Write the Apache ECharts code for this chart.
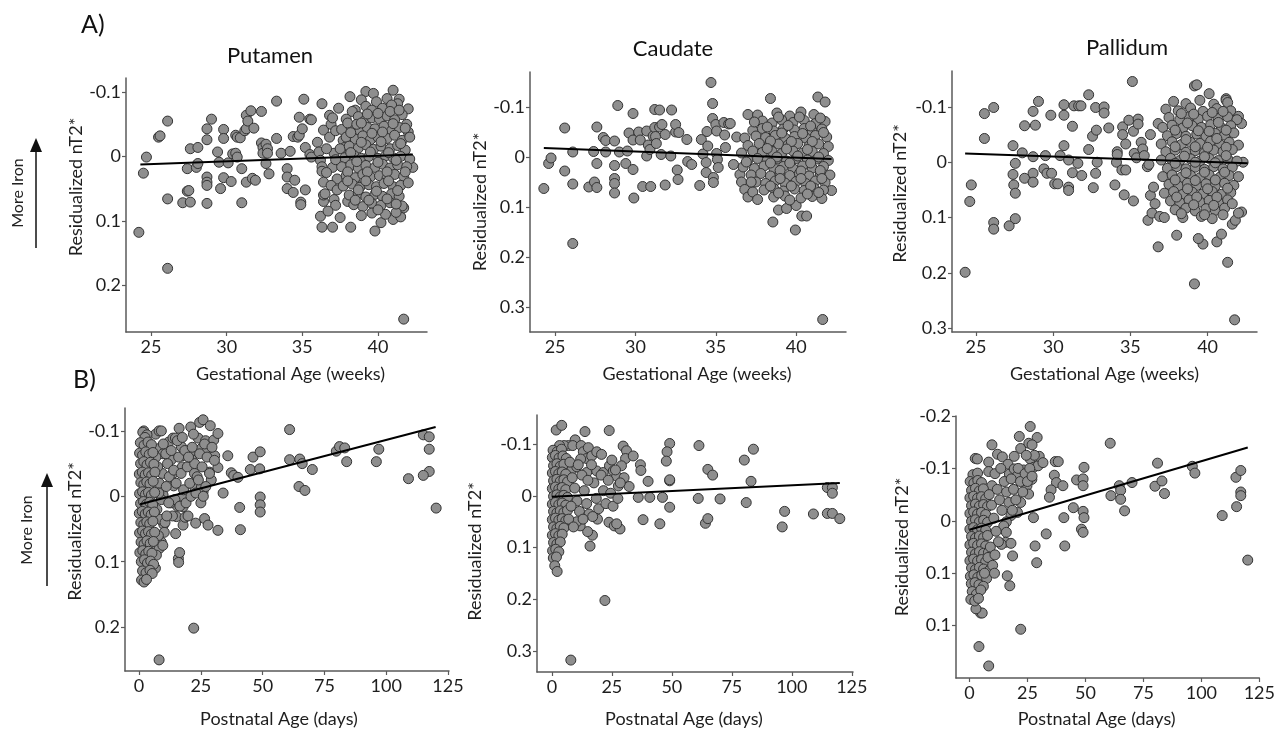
<!DOCTYPE html>
<html><head><meta charset="utf-8">
<script src="https://cdn.jsdelivr.net/npm/echarts@6/dist/echarts.min.js"></script>
<style>html,body{margin:0;padding:0;background:#fff}#c{width:1278px;height:729px}</style>
</head><body><div id="c"></div>
<script>
// ---------- DATA ----------
const panelTitles = ['Putamen', 'Caudate', 'Pallidum'];
const xNameGA = 'Gestational Age (weeks)';
const xNamePNA = 'Postnatal Age (days)';
const yName = 'Residualized nT2*';
const gaTicks = [25, 30, 35, 40];
const pnaTicks = [0, 25, 50, 75, 100, 125];
const yTicksA1 = [-0.1, 0, 0.1, 0.2];
const yTicksA2 = [-0.1, 0, 0.1, 0.2, 0.3];
const yTicksA3 = [-0.1, 0, 0.1, 0.2, 0.3];
const yTicksB1 = [-0.1, 0, 0.1, 0.2];
const yTicksB2 = [-0.1, 0, 0.1, 0.2, 0.3];
const yTicksB3 = [-0.2, -0.1, 0, 0.1, 0.2];
const yLabelsB3 = ['-0.2', '-0.1', '0', '0.1', '0.1'];

const putamenGA = [
[24.2,0.118],[24.5,0.026],[24.7,0.001],[25.5,-0.030],[25.6,-0.032],[26.1,-0.055],[26.1,0.066],[26.1,0.174],
[27.1,0.072],[27.4,0.019],[27.4,0.054],[27.5,0.053],[27.6,0.071],[27.6,-0.012],[28.0,0.017],[28.1,-0.014],[28.1,0.011],
[28.7,-0.043],[28.7,-0.026],[28.7,0.032],[28.7,0.040],[28.7,0.045],[28.7,0.073],[29.0,-0.058],
[29.4,-0.007],[29.5,0.009],[29.6,0.050],[29.8,-0.042],[29.8,-0.028],[29.8,0.033],[30.1,0.010],[30.3,0.039],[30.4,-0.004],
[30.6,-0.033],[30.6,-0.005],[30.7,-0.030],[30.7,0.001],[30.9,-0.029],[31.0,0.019],[31.0,0.072],[31.2,-0.040],[31.3,-0.043],[31.3,-0.064],[31.4,-0.055],[31.3,0.040],[31.6,-0.071],[31.7,0.034],[31.8,-0.044],[31.9,0.037],[32.3,-0.070],[32.3,-0.021],[32.4,-0.014],[32.4,-0.005],[32.6,0.011],[32.6,-0.019],[32.7,-0.012],[32.7,-0.005],[32.8,0.027],[33.3,-0.028],[33.3,-0.086],
[33.6,-0.005],[34.0,0.019],[34.0,0.032],[34.0,0.050],[34.2,-0.008],[34.4,-0.031],[34.4,0.056],[34.5,0.037],[34.7,-0.030],[34.8,-0.061],[34.8,-0.033],[34.9,0.071],[34.9,0.075],[35.0,-0.043],[35.1,-0.089],[35.2,-0.014],[35.2,0.052],[35.5,-0.058],[35.6,-0.057],[35.5,-0.003],[35.6,0.001],
[36.0,-0.022],[36.1,-0.007],[36.2,0.006],[36.3,0.016],[36.3,0.023],[36.3,-0.082],[36.4,-0.041],[36.2,0.093],[36.3,0.110],[36.4,0.070],[36.4,0.060],[36.4,0.040],[36.5,0.058],[36.8,-0.064],[36.9,-0.050],[37.0,0.017],[37.0,0.110],[37.1,0.067],[37.2,0.076],[37.3,0.035],
[37.7,-0.025],[37.8,-0.014],[38.0,0.070],[38.1,-0.014],[38.15,-0.093],[38.2,0.110],[38.5,-0.072],[38.5,0.040],
[39.2,-0.101],[39.7,-0.098],[39.8,0.116],[40.2,0.103],[41.0,-0.103],[41.0,0.098],[41.4,-0.089],[41.5,0.094],[41.7,0.080],[42.0,-0.074],[41.7,0.253],[42.3,0.017],
[36.8,-0.030],[37.1,-0.005],[36.9,0.045],[37.3,0.052],[36.6,-0.012],[37.2,-0.040],
[38.9,-0.088],[39.9,-0.085],[40.6,-0.090],[41.3,-0.082],
[38.3,-0.070],[39.2,-0.078],[39.6,-0.072],[40.3,-0.075],[40.9,-0.080],[41.6,-0.065],
[37.9,-0.058],[38.7,-0.062],[39.1,-0.055],[39.6,-0.060],[40.1,-0.058],[40.6,-0.063],[41.1,-0.057],[41.9,-0.050],
[37.6,-0.042],[38.2,-0.047],[38.8,-0.040],[39.3,-0.045],[39.8,-0.043],[40.4,-0.047],[40.9,-0.040],[41.4,-0.045],[42.0,-0.038],
[37.9,-0.030],[38.5,-0.027],[39.0,-0.032],[39.5,-0.026],[40.0,-0.030],[40.6,-0.028],[41.1,-0.033],[41.6,-0.025],[42.1,-0.030],
[37.5,-0.012],[38.1,-0.016],[38.7,-0.013],[39.2,-0.018],[39.7,-0.011],[40.2,-0.016],[40.8,-0.012],[41.3,-0.017],[41.8,-0.010],
[37.8,0.002],[38.4,-0.002],[38.9,0.003],[39.4,0.000],[40.0,0.003],[40.5,-0.001],[41.0,0.002],[41.5,0.000],[42.1,0.004],
[37.6,0.016],[38.2,0.013],[38.7,0.018],[39.2,0.014],[39.8,0.017],[40.3,0.012],[40.8,0.018],[41.3,0.013],[41.9,0.016],
[37.9,0.030],[38.5,0.033],[39.0,0.028],[39.5,0.032],[40.1,0.030],[40.6,0.034],[41.1,0.028],[41.7,0.031],
[37.7,0.046],[38.3,0.043],[38.8,0.048],[39.4,0.044],[39.9,0.047],[40.4,0.042],[41.0,0.047],[41.5,0.045],[42.0,0.041],
[38.1,0.060],[38.7,0.058],[39.2,0.063],[39.8,0.059],[40.3,0.062],[40.9,0.058],[41.4,0.062],
[38.4,0.075],[39.0,0.078],[39.6,0.073],[40.2,0.076],[40.8,0.072],[41.6,0.077],
[38.9,0.092],[39.6,0.088],[40.5,0.090],[41.2,0.087],
[38.0,-0.052],[38.6,-0.050],[39.3,-0.066],[40.0,-0.067],[40.8,-0.070],[41.4,-0.072],
[38.2,-0.037],[38.9,-0.052],[39.6,-0.036],[40.3,-0.038],[41.0,-0.051],[41.8,-0.044],
[38.2,-0.006],[38.9,-0.022],[39.5,-0.007],[40.2,-0.023],[40.7,-0.006],[41.5,-0.020],
[38.0,0.024],[38.6,0.008],[39.3,0.024],[40.0,0.009],[40.6,0.024],[41.2,0.006],[41.8,0.024],
[38.0,0.038],[38.7,0.052],[39.2,0.038],[39.9,0.054],[40.7,0.038],[41.3,0.053],
[38.5,0.068],[39.4,0.068],[40.0,0.083],[40.6,0.066],[41.2,0.074],
[36.6,0.025],[37.2,0.005],[37.0,-0.060],[37.4,-0.075],[36.7,0.085],[37.5,0.095]
];

const caudateGA = [
[24.3,0.063],[24.6,0.013],[24.75,0.002],[25.6,-0.058],[25.6,0.028],[26.1,-0.010],[26.1,0.054],[26.1,0.173],
[27.1,0.060],[27.4,-0.011],[27.45,0.050],[27.6,-0.060],[27.6,0.013],[27.6,0.061],[28.0,-0.039],[28.15,-0.033],[28.15,-0.010],
[28.7,-0.032],[28.7,0.017],[28.7,0.043],[28.7,0.053],[28.7,0.072],[28.9,-0.103],[29.0,-0.010],[29.4,0.013],[29.5,-0.012],
[29.6,-0.048],[29.85,-0.087],[29.85,-0.034],[29.85,0.025],[29.9,0.082],[30.2,-0.050],[30.3,-0.034],[30.45,0.059],[30.7,-0.052],[30.7,-0.002],[30.8,-0.024],[30.9,-0.015],[30.95,0.059],
[31.1,-0.042],[31.2,-0.095],[31.2,-0.059],[31.25,-0.041],[31.3,-0.027],[31.5,-0.094],[31.5,-0.060],[31.6,-0.005],[31.65,-0.065],
[31.85,0.056],[31.85,-0.045],[32.2,-0.002],[32.25,-0.094],[32.5,-0.050],[32.5,-0.065],[32.6,0.026],[32.65,0.045],[32.7,-0.049],
[33.2,-0.035],[33.25,0.009],[33.5,0.015],[34.0,0.057],[34.1,-0.035],[34.2,-0.006],[34.4,0.011],[34.4,0.031],[34.45,-0.051],[34.5,-0.022],
[34.7,-0.149],[34.8,-0.107],[34.8,-0.077],[34.85,0.041],[34.85,0.051],[35.0,-0.065],[35.05,-0.052],[35.05,-0.007],[35.1,0.005],[35.15,0.021],
[35.5,-0.069],[35.55,-0.044],[35.6,-0.019],[35.8,-0.066],[35.9,-0.067],[36.1,0.015],[36.3,-0.040],[36.5,0.035],[36.6,0.050],[36.8,0.065],[37.0,0.080],[37.3,0.070],[37.6,0.085],
[38.4,-0.117],[38.55,0.130],[39.95,0.146],[40.35,0.118],[40.65,0.118],[41.35,-0.120],[41.8,-0.110],[41.65,0.325],[42.2,0.067],[38.9,0.106],[39.4,0.103],[40.0,0.097],[37.0,-0.085],[37.6,-0.084],
[38.8,-0.088],[39.6,-0.082],[40.3,-0.090],[41.1,-0.085],
[37.9,-0.072],[38.5,-0.068],[39.1,-0.074],[39.8,-0.069],[40.5,-0.073],[41.2,-0.067],[41.8,-0.071],
[37.3,-0.053],[37.9,-0.057],[38.6,-0.052],[39.2,-0.056],[39.9,-0.054],[40.5,-0.057],[41.0,-0.051],[41.6,-0.056],
[36.8,-0.038],[37.5,-0.042],[38.1,-0.039],[38.7,-0.043],[39.3,-0.038],[39.9,-0.041],[40.6,-0.038],[41.2,-0.043],[41.9,-0.040],
[37.0,-0.023],[37.7,-0.027],[38.3,-0.022],[38.9,-0.026],[39.5,-0.024],[40.1,-0.027],[40.8,-0.022],[41.4,-0.026],[42.0,-0.021],
[36.6,-0.008],[37.3,-0.012],[37.9,-0.009],[38.5,-0.011],[39.1,-0.007],[39.8,-0.012],[40.4,-0.008],[41.0,-0.011],[41.7,-0.007],
[37.0,0.006],[37.6,0.003],[38.2,0.007],[38.8,0.004],[39.4,0.008],[40.0,0.003],[40.7,0.006],[41.3,0.004],[42.0,0.007],
[36.7,0.020],[37.4,0.023],[38.0,0.018],[38.6,0.022],[39.2,0.019],[39.8,0.023],[40.4,0.018],[41.0,0.022],[41.7,0.019],
[37.2,0.036],[37.8,0.033],[38.4,0.038],[39.0,0.034],[39.6,0.037],[40.2,0.033],[40.8,0.038],[41.5,0.034],[42.1,0.036],
[37.5,0.050],[38.1,0.053],[38.7,0.048],[39.3,0.052],[40.0,0.049],[40.6,0.053],[41.2,0.048],[41.8,0.051],
[38.0,0.066],[38.6,0.063],[39.2,0.068],[39.9,0.064],[40.5,0.067],[41.1,0.062],[41.7,0.066],
[38.6,0.080],[39.3,0.078],[40.3,0.082],[41.0,0.079],[41.6,0.083],
[38.2,-0.060],[38.9,-0.080],[39.5,-0.063],[40.2,-0.080],[40.9,-0.062],[41.5,-0.078],
[38.4,-0.032],[39.1,-0.048],[39.7,-0.031],[40.4,-0.047],[41.0,-0.031],[41.7,-0.049],
[38.2,-0.017],[38.8,0.000],[39.4,-0.016],[40.1,-0.002],[40.7,-0.015],[41.4,0.000],
[38.4,0.012],[39.0,0.027],[39.6,0.012],[40.3,0.028],[40.9,0.012],[41.5,0.027],
[38.4,0.058],[39.0,0.043],[39.7,0.058],[40.3,0.043],[40.9,0.058],[41.6,0.043],
[38.9,0.072],[39.6,0.086],[40.7,0.074],[41.4,0.071],[37.4,-0.070],[36.9,0.010],[37.2,0.050]
];

const pallidumGA = [
[24.3,0.199],[24.6,0.071],[24.7,0.041],[25.55,-0.088],[25.55,-0.043],[26.15,-0.099],[26.15,0.109],[26.15,0.121],
[27.15,0.115],[27.4,-0.030],[27.4,0.022],[27.45,0.041],[27.55,0.056],[27.55,0.002],[27.55,0.102],[28.0,-0.017],[28.15,-0.066],[28.15,0.029],
[28.7,-0.092],[28.7,-0.010],[28.7,0.020],[28.7,0.036],[28.85,-0.067],[29.05,-0.110],[29.4,0.012],[29.5,-0.012],[29.6,0.020],[29.85,-0.085],[29.9,0.020],[30.1,0.039],[30.3,0.039],
[30.45,-0.012],[30.7,-0.104],[30.7,-0.085],[30.7,-0.030],[31.0,-0.004],[31.0,0.045],[31.0,0.051],[31.25,-0.065],[31.25,0.019],[31.35,-0.102],[31.6,0.002],[31.65,-0.102],[31.8,-0.102],[31.85,0.024],
[32.3,-0.122],[32.3,-0.023],[32.55,-0.047],[32.6,0.046],[32.75,-0.099],[32.75,0.020],[32.8,-0.058],[32.85,0.000],[33.3,-0.100],[33.3,-0.089],[33.6,-0.062],
[34.1,0.000],[34.15,-0.019],[34.15,-0.014],[34.0,0.041],[34.45,0.014],[34.5,-0.064],[34.5,-0.050],[34.6,0.059],[34.7,0.014],[34.7,-0.033],[35.13,-0.146],[35.2,0.070],[34.9,-0.076],
[35.2,-0.056],[35.25,-0.016],[35.4,-0.008],[35.5,-0.078],[35.5,-0.069],[35.7,-0.036],[35.8,-0.024],[35.9,-0.012],[36.1,0.008],[36.2,0.004],[36.14,0.105],[36.3,0.060],[36.5,0.045],[36.6,0.075],[36.3,-0.050],[36.8,-0.070],[36.4,0.092],[36.9,0.098],[37.2,0.100],
[39.15,-0.138],[39.3,-0.140],[40.1,-0.124],[41.2,-0.115],[41.2,-0.112],[39.15,0.220],[41.3,0.181],[41.75,0.285],[42.0,-0.083],[42.2,-0.070],[42.2,0.090],[42.3,0.000],[36.8,0.153],[38.0,0.132],[39.7,0.148],[40.6,0.144],[40.9,0.130],[39.4,0.138],[41.6,0.112],[41.8,0.105],[42.0,0.092],
[37.8,-0.110],[38.6,-0.106],[39.5,-0.112],[40.4,-0.105],[41.3,-0.108],
[37.3,-0.096],[38.1,-0.093],[38.9,-0.098],[39.7,-0.092],[40.6,-0.097],[41.5,-0.093],
[37.5,-0.081],[38.2,-0.077],[38.8,-0.082],[39.4,-0.078],[40.0,-0.083],[40.7,-0.079],[41.3,-0.082],[41.9,-0.077],
[37.1,-0.063],[37.7,-0.067],[38.4,-0.062],[39.0,-0.066],[39.6,-0.063],[40.2,-0.068],[40.9,-0.062],[41.5,-0.066],
[37.4,-0.048],[38.0,-0.052],[38.6,-0.047],[39.3,-0.051],[39.9,-0.047],[40.5,-0.052],[41.1,-0.049],[41.7,-0.053],
[37.0,-0.033],[37.7,-0.037],[38.3,-0.032],[38.9,-0.036],[39.5,-0.034],[40.2,-0.038],[40.8,-0.032],[41.4,-0.036],[42.0,-0.031],
[37.3,-0.019],[37.9,-0.022],[38.6,-0.018],[39.2,-0.021],[39.8,-0.017],[40.4,-0.022],[41.0,-0.019],[41.6,-0.023],
[37.0,-0.004],[37.6,-0.007],[38.2,-0.003],[38.9,-0.006],[39.5,-0.002],[40.1,-0.007],[40.7,-0.003],[41.3,-0.006],[41.9,-0.002],
[37.4,0.011],[38.0,0.008],[38.6,0.012],[39.2,0.009],[39.8,0.013],[40.4,0.008],[41.0,0.012],[41.6,0.009],
[37.1,0.026],[37.7,0.023],[38.3,0.027],[38.9,0.024],[39.5,0.028],[40.1,0.023],[40.8,0.027],[41.4,0.024],[42.0,0.026],
[37.5,0.040],[38.1,0.043],[38.7,0.038],[39.3,0.042],[39.9,0.039],[40.5,0.043],[41.1,0.038],[41.7,0.042],
[37.2,0.056],[37.8,0.053],[38.4,0.058],[39.0,0.054],[39.7,0.057],[40.3,0.053],[40.9,0.058],[41.5,0.055],
[37.6,0.070],[38.2,0.073],[38.8,0.068],[39.5,0.072],[40.1,0.069],[40.7,0.073],[41.3,0.068],
[37.9,0.086],[38.6,0.083],[39.2,0.088],[39.9,0.084],[40.5,0.087],[41.1,0.083],
[38.4,0.100],[39.6,0.098],[40.3,0.102],
[38.3,-0.088],[39.1,-0.087],[40.3,-0.090],[41.0,-0.092],
[37.9,-0.058],[38.7,-0.071],[39.4,-0.057],[40.1,-0.056],[40.7,-0.072],[41.2,-0.058],
[37.9,-0.028],[38.6,-0.041],[39.2,-0.028],[40.0,-0.027],[40.6,-0.043],[41.2,-0.027],
[37.9,0.002],[38.5,-0.011],[39.2,0.000],[39.8,-0.010],[40.5,0.001],[41.2,-0.012],
[37.9,0.032],[38.6,0.019],[39.2,0.033],[39.8,0.018],[40.5,0.032],[41.1,0.018],
[38.0,0.063],[38.7,0.048],[39.3,0.063],[40.0,0.048],[40.6,0.063],[41.3,0.047],
[38.3,0.093],[39.1,0.077],[39.8,0.095],[40.4,0.078],[41.0,0.095],[41.6,0.075]
];

const putamenPNA = [
[1.9,-0.100],[6.7,-0.095],[8.1,-0.100],[9.0,-0.100],[8.1,-0.073],[9.4,-0.035],[9.7,-0.065],[9.7,-0.002],[10.0,0.041],[10.0,0.043],[9.0,0.070],[8.1,0.080],
[12.0,-0.083],[13.7,-0.089],[14.7,-0.089],[13.0,-0.056],[13.7,-0.035],[14.0,-0.016],[14.8,0.057],[15.1,0.031],[15.5,0.015],[15.9,0.095],[16.4,0.086],[16.0,0.101],
[16.2,-0.104],[17.1,-0.076],[17.5,-0.062],[17.5,-0.045],[17.6,0.000],[17.8,0.016],[17.8,0.044],[18.6,0.032],[19.5,-0.070],[19.8,0.030],
[20.9,-0.106],[21.2,-0.057],[21.8,-0.070],[22.4,-0.035],[22.5,-0.014],[22.9,0.041],[22.1,0.2015],[8.1,0.250],
[23.9,-0.089],[24.5,-0.113],[25.9,-0.117],[25.2,-0.073],[25.2,-0.014],[25.9,-0.007],[26.5,0.034],[26.9,-0.085],[27.2,-0.068],[27.9,0.044],[28.5,-0.037],[28.8,-0.108],[29.2,-0.025],
[30.2,-0.086],[30.6,-0.062],[31.9,-0.096],[31.9,-0.044],[31.9,0.052],[34.0,-0.005],[35.9,-0.062],[37.3,-0.036],[38.3,-0.032],[40.0,-0.029],[40.7,0.017],[41.0,0.051],
[45.0,-0.041],[46.1,-0.060],[48.8,-0.042],[49.0,-0.068],[49.0,0.001],[49.0,0.013],[49.0,0.024],
[60.9,-0.102],[60.9,-0.056],[64.7,-0.015],[65.0,-0.057],[66.0,-0.050],[67.1,-0.009],[70.1,-0.041],
[79.8,-0.069],[81.1,-0.076],[83.2,-0.074],[84.0,-0.053],[96.0,-0.053],[97.0,-0.072],[109.0,-0.027],
[115.0,-0.094],[117.4,-0.091],[117.4,-0.072],[117.4,-0.038],[115.0,-0.032],[120.2,0.018],
[6.8,-0.060],[7.5,-0.045],[8.2,-0.020],[9.0,0.005],[7.2,0.020],[8.5,0.035],[10.2,0.055],[7.8,0.060],[9.6,0.075],[10.5,0.040],[11.0,-0.015],[11.5,-0.050],[12.2,-0.030],[12.8,0.010],[13.5,0.030],[9.8,-0.080],[10.8,-0.065],[7.0,0.090],[6.6,0.110],[8.0,-0.005],
[14.0,-0.040],[15.0,-0.020],[16.0,-0.060],[17.0,-0.035],[18.0,-0.010],[18.5,-0.070],[19.5,-0.045],[20.5,-0.020],[21.5,-0.075],[22.5,-0.050],[23.5,-0.030],[24.5,-0.065],[25.5,-0.045],[26.5,-0.080],[27.5,-0.060],[28.5,-0.035],[29.5,-0.075],[30.5,-0.055],[14.5,0.005],[16.5,0.015],[19.0,0.010],[21.0,0.000],[23.0,-0.005],[25.0,0.010],[27.0,-0.015],[15.5,-0.085],[17.5,-0.090],[22.0,-0.095],[24.0,-0.025],[26.0,0.000],[20.0,-0.060],[13.0,-0.070],[12.0,0.010],[11.2,0.030],
[1.5,-0.098],[3.2,-0.094],[2.4,-0.090],
[0.5,-0.082],[2.0,-0.078],[3.6,-0.083],[5.0,-0.079],
[0.2,-0.066],[1.4,-0.063],[2.7,-0.068],[4.1,-0.064],[5.6,-0.067],
[0.6,-0.050],[1.9,-0.053],[3.2,-0.048],[4.6,-0.052],[6.0,-0.049],
[0.1,-0.034],[1.3,-0.037],[2.5,-0.033],[3.8,-0.036],[5.1,-0.032],[6.4,-0.037],
[0.7,-0.021],[1.9,-0.018],[3.1,-0.022],[4.4,-0.019],[5.7,-0.023],
[0.2,-0.004],[1.4,-0.007],[2.6,-0.003],[3.8,-0.006],[5.0,-0.002],[6.3,-0.006],
[0.6,0.011],[1.8,0.008],[3.0,0.012],[4.3,0.009],[5.5,0.013],
[0.1,0.026],[1.3,0.023],[2.5,0.027],[3.7,0.024],[4.9,0.028],[6.2,0.024],
[0.7,0.040],[1.9,0.043],[3.1,0.039],[4.3,0.042],[5.6,0.038],
[0.2,0.056],[1.4,0.053],[2.6,0.057],[3.8,0.054],[5.0,0.058],[6.3,0.055],
[0.8,0.070],[2.0,0.073],[3.2,0.068],[4.5,0.072],[5.8,0.069],
[0.3,0.086],[1.5,0.083],[2.7,0.088],[3.9,0.084],[5.2,0.087],
[0.9,0.100],[2.2,0.097],[3.4,0.102],[4.7,0.099],[5.9,0.104],
[1.4,0.114],[2.8,0.117],[4.4,0.113],[5.3,0.118],
[1.0,0.128],[2.0,0.131],[3.0,0.127]
];

const caudatePNA = [
[1.8,-0.127],[4.1,-0.136],[13.8,-0.124],[23.9,-0.126],[9.7,-0.108],[6.9,-0.097],[5.1,-0.097],[3.2,-0.097],[8.7,-0.097],[12.2,-0.097],
[13.1,-0.085],[15.2,-0.093],[14.5,-0.072],[16.6,-0.077],[18.7,-0.085],[20.7,-0.080],
[8.3,-0.050],[10.4,-0.056],[12.0,-0.071],[14.5,-0.045],[18.7,-0.048],[21.4,-0.045],
[24.0,-0.058],[25.0,-0.069],[25.6,-0.048],[27.0,-0.038],[29.7,-0.096],[31.1,-0.087],[30.7,-0.072],[33.9,-0.077],
[29.0,-0.058],[27.7,-0.019],[32.2,-0.018],[30.1,-0.035],
[36.9,-0.060],[37.1,-0.049],[40.1,-0.028],[40.8,0.003],[36.0,0.003],[38.0,0.046],[45.0,0.054],[46.1,0.003],
[49.1,-0.101],[48.0,-0.085],[47.7,-0.067],[49.1,-0.029],[49.1,-0.031],[49.1,0.022],
[61.3,-0.097],[61.0,0.005],[65.0,-0.051],[67.0,-0.040],[64.0,0.053],[65.0,0.044],
[70.1,0.006],[80.2,-0.069],[84.0,-0.090],[83.0,-0.028],[81.0,0.013],
[96.0,0.060],[97.0,0.030],[109.0,0.035],[114.8,-0.016],[116.9,-0.016],[116.9,-0.005],[114.8,0.034],[116.9,0.034],[120.0,0.044],
[7.9,0.317],[22.1,0.202],[15.9,0.097],[16.9,0.076],[14.9,0.069],
[23.8,0.051],[26.0,0.058],[28.4,0.064],[27.0,0.054],[11.8,0.058],[10.4,0.050],
[0.5,-0.088],[2.2,-0.085],[4.0,-0.090],
[0.2,-0.074],[1.5,-0.078],[3.0,-0.073],[4.6,-0.077],[6.0,-0.072],
[0.7,-0.058],[2.1,-0.062],[3.5,-0.057],[5.0,-0.061],
[0.2,-0.044],[1.5,-0.047],[2.9,-0.043],[4.3,-0.046],[5.8,-0.042],
[0.7,-0.029],[2.1,-0.032],[3.5,-0.028],[5.0,-0.031],[6.5,-0.027],
[0.2,-0.014],[1.5,-0.017],[2.9,-0.013],[4.3,-0.016],[5.8,-0.012],
[0.7,0.001],[2.1,-0.002],[3.5,0.002],[5.0,-0.001],[6.5,0.003],
[0.2,0.016],[1.5,0.013],[2.9,0.017],[4.3,0.014],[5.8,0.018],
[0.7,0.030],[2.1,0.033],[3.5,0.029],[5.0,0.032],[6.5,0.028],
[0.2,0.046],[1.5,0.043],[2.9,0.047],[4.3,0.044],[5.8,0.048],
[0.7,0.060],[2.1,0.063],[3.5,0.059],[5.0,0.062],
[0.2,0.076],[1.5,0.073],[2.9,0.077],[4.3,0.074],
[0.7,0.090],[2.1,0.093],[3.5,0.089],
[0.3,0.106],[1.6,0.103],[2.9,0.108],
[0.6,0.120],[1.9,0.118],
[1.2,0.135],[2.2,0.146],
[7.5,-0.065],[8.5,-0.035],[9.5,-0.015],[10.5,0.010],[11.5,0.030],[7.0,0.045],[8.0,0.020],[9.0,0.060],[12.5,-0.040],[13.5,-0.010],[14.5,0.015],[15.5,0.035],[16.5,-0.060],[17.5,-0.025],[18.5,0.005],[19.5,0.025],[20.5,-0.040],[21.5,-0.010],[22.5,0.015],[23.5,-0.030],[24.5,-0.005],[25.5,0.020],[26.5,-0.050],[27.5,0.005],[28.5,-0.025],[19.0,0.045],[17.0,0.040],[11.0,-0.060],[13.0,0.045],[15.0,-0.030]
];

const pallidumPNA = [
[9.7,-0.145],[21.5,-0.161],[26.2,-0.180],[29.2,-0.159],[22.1,-0.138],[25.6,-0.148],[27.0,-0.145],
[12.1,-0.127],[14.2,-0.122],[19.3,-0.123],[2.5,-0.119],[3.4,-0.118],
[8.3,-0.112],[8.3,-0.094],[9.7,-0.067],[16.6,-0.108],[17.2,-0.089],[19.3,-0.099],[20.7,-0.086],[23.4,-0.097],[26.2,-0.118],[27.6,-0.102],[29.6,-0.105],[30.1,-0.123],[31.7,-0.111],
[37.0,-0.113],[38.3,-0.113],[36.6,-0.087],[37.5,-0.073],[40.3,-0.067],
[35.2,-0.059],[34.5,-0.045],
[26.9,-0.079],[24.8,-0.067],[25.5,-0.051],[27.6,-0.006],
[33.1,0.025],[28.3,0.048],[29.0,0.080],
[22.1,-0.035],[20.7,-0.016],[17.9,-0.010],[15.9,0.002],
[14.8,0.010],[15.9,0.022],[15.6,0.041],[13.8,0.045],[17.9,0.043],[18.6,0.067],
[16.3,0.105],[17.4,0.124],[22.1,0.207],[4.1,0.240],[8.3,0.277],[4.8,0.176],[5.5,0.176],[2.8,0.168],
[41.1,0.048],[40.7,-0.006],[44.8,-0.025],[46.2,-0.078],[49.0,-0.080],[49.4,-0.102],[49.0,-0.067],
[49.0,-0.018],[49.4,-0.006],[48.3,0.016],[49.0,0.022],
[60.7,-0.148],[61.0,-0.048],[64.6,-0.067],[65.2,-0.058],[65.2,-0.041],[66.9,-0.019],[70.1,-0.073],
[80.0,-0.066],[81.1,-0.110],[83.0,-0.076],[84.1,-0.052],[96.1,-0.104],[97.2,-0.091],
[109.0,-0.010],[114.9,-0.083],[115.2,-0.027],[117.0,-0.096],[117.0,-0.055],[117.0,-0.048],[120.0,0.075],
[1.5,-0.088],[3.5,-0.091],
[0.3,-0.075],[1.9,-0.072],[3.6,-0.077],[5.2,-0.073],
[0.9,-0.058],[2.6,-0.062],[4.3,-0.057],[6.0,-0.061],
[0.2,-0.044],[1.8,-0.047],[3.5,-0.043],[5.2,-0.046],[7.0,-0.042],
[0.9,-0.029],[2.6,-0.032],[4.3,-0.028],[6.1,-0.031],[7.8,-0.027],
[0.2,-0.014],[1.8,-0.017],[3.5,-0.013],[5.2,-0.016],[7.0,-0.012],
[0.9,0.001],[2.6,-0.002],[4.3,0.002],[6.1,-0.001],[7.8,0.003],
[0.2,0.016],[1.8,0.013],[3.5,0.017],[5.2,0.014],[7.0,0.018],
[0.9,0.030],[2.6,0.033],[4.3,0.029],[6.1,0.032],[7.8,0.028],
[0.2,0.046],[1.8,0.043],[3.5,0.047],[5.2,0.044],[7.0,0.048],
[0.9,0.060],[2.6,0.063],[4.3,0.059],[6.1,0.062],[8.2,0.060],
[0.2,0.076],[1.8,0.073],[3.5,0.077],[5.2,0.074],[7.0,0.078],
[0.9,0.090],[2.6,0.093],[4.3,0.089],[6.1,0.092],[8.5,0.095],
[0.4,0.106],[1.9,0.103],[3.6,0.108],[5.3,0.104],[7.4,0.110],
[0.8,0.120],[2.4,0.118],[4.1,0.122],[6.0,0.125],
[1.2,0.135],[3.0,0.140],[4.9,0.132],
[0.6,0.150],[2.3,0.153],[3.9,0.148],
[8.5,-0.050],[9.5,-0.030],[10.5,-0.005],[11.5,0.020],[12.5,0.040],[8.0,0.070],[9.0,0.050],[10.0,0.085],[11.0,0.065],[12.0,-0.060],[13.0,-0.040],[14.0,-0.020],[15.0,-0.075],[16.0,-0.055],[17.0,-0.035],[18.0,-0.080],[19.0,-0.060],[20.0,-0.040],[21.0,-0.100],[22.0,-0.075],[23.0,-0.055],[24.0,-0.090],[25.0,-0.075],[26.0,-0.100],[27.0,-0.085],[28.0,-0.125],[24.5,-0.125],[18.5,-0.020],[10.8,0.100],[6.5,0.100],[11.0,-0.090],[13.5,-0.100]
];

// regression line endpoints
const fitPutamenGA = [[24.3,0.0124],[42.3,-0.003]];
const fitCaudateGA = [[24.3,-0.018],[42.2,0.004]];
const fitPallidumGA = [[24.3,-0.016],[42.6,0.002]];
const fitPutamenPNA = [[0.4,0.012],[120,-0.106]];
const fitCaudatePNA = [[0,0.002],[120,-0.025]];
const fitPallidumPNA = [[0,0.017],[120,-0.140]];

// ---------- LAYOUT ----------
const FONT = 'Lato';
const FS = 18;
const panels = [
 {pts: putamenGA, fit: fitPutamenGA, xt: gaTicks, yt: yTicksA1, xName: xNameGA,
  grid:{left:126,top:78,width:301,height:254}, x:[23.35,43.24], y:[-0.122,0.273], yGap:37, yPad:[0,0,0,36], xGap:33, xPad:[0,0,0,28]},
 {pts: caudateGA, fit: fitCaudateGA, xt: gaTicks, yt: yTicksA2, xName: xNameGA,
  grid:{left:530,top:72,width:316,height:260}, x:[23.44,43.1], y:[-0.17,0.35], yGap:41, yPad:0, xGap:33, xPad:[0,0,0,18]},
 {pts: pallidumGA, fit: fitPallidumGA, xt: gaTicks, yt: yTicksA3, xName: xNameGA,
  grid:{left:952,top:71,width:305,height:261}, x:[23.45,43.2], y:[-0.165,0.307], yGap:43, yPad:[0,0,0,16], xGap:33, xPad:0},
 {pts: putamenPNA, fit: fitPutamenPNA, xt: pnaTicks, yt: yTicksB1, xName: xNamePNA,
  grid:{left:125,top:408,width:324,height:264}, x:[-5.7,125.4], y:[-0.135,0.267], yGap:36, yPad:[0,0,0,16], xGap:39, xPad:[0,16,0,0]},
 {pts: caudatePNA, fit: fitCaudatePNA, xt: pnaTicks, yt: yTicksB2, xName: xNamePNA,
  grid:{left:537,top:415,width:316,height:258}, x:[-6.2,125.5], y:[-0.156,0.34], yGap:53, yPad:[0,16,0,0], xGap:38, xPad:[0,22,0,0]},
 {pts: pallidumPNA, fit: fitPallidumPNA, xt: pnaTicks, yt: yTicksB3, xName: xNamePNA, yLabels: yLabelsB3,
  grid:{left:956,top:416,width:316,height:263}, x:[-5.8,125], y:[-0.2,0.3], yGap:45, yPad:0, xGap:32, xPad:[0,22,0,0]}
];

const axisColor = '#5a5a5a';
const textColor = '#1e1e1e';
const fmt = v => String(Math.round(v * 10) / 10);

const option = {
  animation: false,
  backgroundColor: '#fff',
  grid: panels.map(p => Object.assign({containLabel:false}, p.grid)),
  xAxis: panels.map((p, i) => ({
    type: 'value', gridIndex: i, min: p.x[0], max: p.x[1],
    name: p.xName, nameLocation: 'middle', nameGap: p.xGap,
    nameTextStyle: {fontFamily: FONT, fontSize: FS, color: textColor, padding: p.xPad},
    axisLine: {show: true, onZero: false, lineStyle: {color: axisColor, width: 1.5}},
    axisTick: {show: true, inside: false, length: 4, lineStyle: {color: axisColor, width: 1.2}, customValues: p.xt},
    axisLabel: {fontFamily: FONT, fontSize: FS, color: textColor, margin: 6, customValues: p.xt},
    splitLine: {show: false}
  })),
  yAxis: panels.map((p, i) => ({
    type: 'value', gridIndex: i, inverse: true, min: p.y[0], max: p.y[1],
    name: yName, nameLocation: 'middle', nameGap: p.yGap, nameRotate: 90,
    nameTextStyle: {fontFamily: FONT, fontSize: FS, color: textColor, padding: p.yPad},
    axisLine: {show: true, onZero: false, lineStyle: {color: axisColor, width: 1.5}},
    axisTick: {show: true, inside: false, length: 4, lineStyle: {color: axisColor, width: 1.2}, customValues: p.yt},
    axisLabel: {fontFamily: FONT, fontSize: FS, color: textColor, margin: 5, customValues: p.yt,
      formatter: p.yLabels ? (v => { const k = p.yt.findIndex(t => Math.abs(t - v) < 1e-9); return k >= 0 ? p.yLabels[k] : fmt(v); }) : fmt},
    splitLine: {show: false}
  })),
  series: panels.flatMap((p, i) => [
    {type: 'scatter', xAxisIndex: i, yAxisIndex: i, data: p.pts, symbol: 'circle', symbolSize: 10,
     itemStyle: {color: '#8e8e8e', borderColor: '#333', borderWidth: 1, opacity: 1}, z: 2},
    {type: 'line', xAxisIndex: i, yAxisIndex: i, data: p.fit, symbol: 'none',
     lineStyle: {color: '#000', width: 2}, z: 5, silent: true}
  ]),
  graphic: [
    {type:'text', left: 81, top: 12, style:{text:'A)', font:'25px Lato', fill:'#111'}},
    {type:'text', left: 73, top: 367, style:{text:'B)', font:'25px Lato', fill:'#111'}},
    {type:'text', x: 270, y: 56, style:{text:panelTitles[0], font:'22px Lato', fill:'#111', align:'center', verticalAlign:'middle'}},
    {type:'text', x: 673, y: 49, style:{text:panelTitles[1], font:'22px Lato', fill:'#111', align:'center', verticalAlign:'middle'}},
    {type:'text', x: 1127, y: 48, style:{text:panelTitles[2], font:'22px Lato', fill:'#111', align:'center', verticalAlign:'middle'}},
    {type:'text', x: 18, y: 193, rotation: Math.PI/2, style:{text:'More Iron', font:'16px Lato', fill:'#222', align:'center', verticalAlign:'middle'}},
    {type:'text', x: 27, y: 530, rotation: Math.PI/2, style:{text:'More Iron', font:'16px Lato', fill:'#222', align:'center', verticalAlign:'middle'}},
    {type:'line', shape:{x1:36, y1:248, x2:36, y2:150}, style:{stroke:'#111', lineWidth:1.5}},
    {type:'polygon', shape:{points:[[30,152],[42,152],[36,138]]}, style:{fill:'#111'}},
    {type:'line', shape:{x1:47, y1:586, x2:47, y2:485}, style:{stroke:'#111', lineWidth:1.5}},
    {type:'polygon', shape:{points:[[41,487],[53,487],[47,473]]}, style:{fill:'#111'}}
  ]
};

const chart = echarts.init(document.getElementById('c'), null, {renderer: 'canvas'});
chart.setOption(option);
</script>
</body></html>
